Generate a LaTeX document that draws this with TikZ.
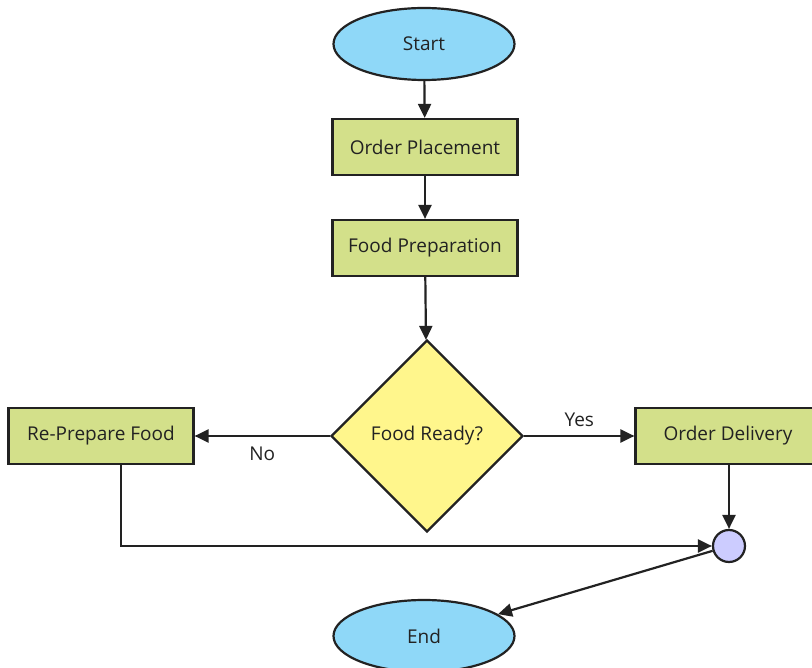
\documentclass[tikz,border=0pt]{standalone}
\usepackage{fontspec}
\setmainfont{Open Sans}
\usetikzlibrary{shapes.geometric,arrows.meta}
\definecolor{ellfill}{HTML}{8FD8F8}
\definecolor{boxfill}{HTML}{D3E08A}
\definecolor{diafill}{HTML}{FFF68C}
\definecolor{cirfill}{HTML}{CCCCFF}
\definecolor{ink}{HTML}{222222}
\tikzset{
  base/.style={draw=ink, line width=2.2pt, text=ink, font=\fontsize{19}{22}\selectfont, inner sep=0pt},
  term/.style={base, ellipse, fill=ellfill, minimum width=181pt, minimum height=72pt},
  proc/.style={base, rectangle, fill=boxfill, minimum width=185pt, minimum height=56pt},
  dec/.style={base, diamond, fill=diafill, minimum width=192pt, minimum height=192pt},
  junc/.style={base, circle, fill=cirfill, minimum size=32pt},
  conn/.style={draw=ink, line width=2.2pt, -{Triangle[length=14pt,width=13pt]}},
  lbl/.style={text=ink, font=\fontsize{19}{22}\selectfont}
}
\begin{document}
\begin{tikzpicture}[x=1pt,y=-1pt]
\useasboundingbox (0,0) rectangle (812,668);
\node[term] (start) at (424,44) {Start};
\node[proc] (place) at (425,147) {Order Placement};
\node[proc] (prep) at (425,248) {Food Preparation};
\node[dec] (ready) at (427,436) {Food Ready?};
\node[proc] (reprep) at (101,436) {Re-Prepare Food};
\node[proc] (deliv) at (728,436) {Order Delivery};
\node[junc] (merge) at (729,546) {};
\node[term] (end) at (424,636) {End};
\draw[conn] (start) -- (place);
\draw[conn] (place) -- (prep);
\draw[conn] (prep) -- (ready);
\draw[conn] (ready.west) -- (reprep.east) node[lbl, midway, below=7pt] {No};
\draw[conn] (ready.east) -- (deliv.west) node[lbl, midway, above=5pt] {Yes};
\draw[conn] (deliv.south -| merge) -- (merge);
\draw[conn] (reprep.south -| 121,0) -- (121,546) -- (merge.west);
\draw[conn] (merge) -- (end);
\end{tikzpicture}
\end{document}
